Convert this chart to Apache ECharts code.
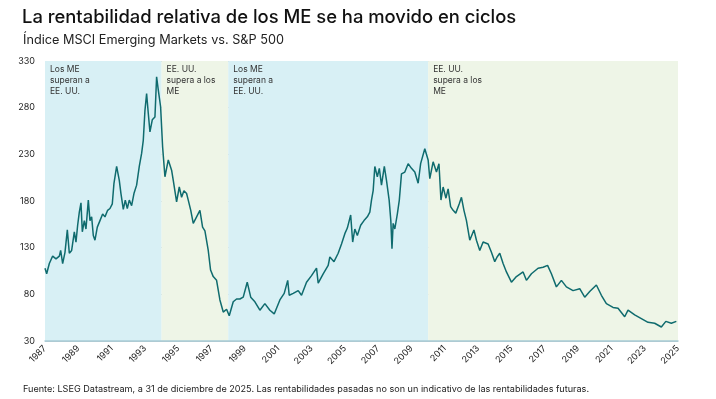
<!DOCTYPE html>
<html>
<head>
<meta charset="utf-8">
<script src="https://cdn.jsdelivr.net/npm/echarts@6/dist/echarts.min.js"></script>
<style>
  html, body { margin: 0; padding: 0; background: #fff; }
  #chart { width: 716px; height: 399px; }
</style>
</head>
<body>
<div id="chart"></div>
<script>
// MSCI EM vs S&P 500: [año, valor]
const years = [
  1987.0, 1987.1, 1987.26, 1987.46, 1987.66, 1987.86, 1987.94, 1988.06, 1988.2, 1988.34,
  1988.46, 1988.6, 1988.76, 1988.86, 1988.96, 1989.06, 1989.16, 1989.24, 1989.36, 1989.46,
  1989.6, 1989.7, 1989.8, 1989.9, 1990.0, 1990.14, 1990.3, 1990.46, 1990.6, 1990.76,
  1990.9, 1991.04, 1991.14, 1991.3, 1991.46, 1991.56, 1991.7, 1991.82, 1991.94, 1992.06,
  1992.2, 1992.34, 1992.5, 1992.66, 1992.8, 1992.9, 1993.0, 1993.1, 1993.2, 1993.3,
  1993.44, 1993.6, 1993.7, 1993.8, 1993.94, 1994.06, 1994.2, 1994.4, 1994.6, 1994.7,
  1994.9, 1995.06, 1995.2, 1995.34, 1995.5, 1995.6, 1995.75, 1995.9, 1996.1, 1996.3,
  1996.46, 1996.6, 1996.8, 1996.94, 1997.1, 1997.3, 1997.5, 1997.7, 1997.9, 1998.06,
  1998.3, 1998.5, 1998.7, 1998.9, 1999.14, 1999.35, 1999.6, 1999.9, 2000.2, 2000.5,
  2000.76, 2001.1, 2001.36, 2001.57, 2001.66, 2001.9, 2002.2, 2002.4, 2002.7, 2003.0,
  2003.3, 2003.4, 2003.7, 2004.0, 2004.1, 2004.35, 2004.6, 2004.8, 2005.0, 2005.15,
  2005.35, 2005.47, 2005.6, 2005.75, 2005.95, 2006.15, 2006.35, 2006.5, 2006.6, 2006.7,
  2006.8, 2006.95, 2007.07, 2007.2, 2007.37, 2007.5, 2007.66, 2007.76, 2007.83, 2007.9,
  2008.0, 2008.15, 2008.27, 2008.4, 2008.6, 2008.8, 2009.0, 2009.2, 2009.4, 2009.55,
  2009.8, 2010.0, 2010.1, 2010.3, 2010.5, 2010.65, 2010.77, 2010.9, 2011.07, 2011.2,
  2011.35, 2011.5, 2011.66, 2011.87, 2012.0, 2012.15, 2012.3, 2012.5, 2012.75, 2012.9,
  2013.1, 2013.3, 2013.6, 2013.8, 2014.0, 2014.14, 2014.3, 2014.5, 2014.7, 2015.0,
  2015.3, 2015.7, 2015.9, 2016.2, 2016.6, 2016.9, 2017.17, 2017.4, 2017.7, 2018.0,
  2018.3, 2018.7, 2019.1, 2019.4, 2019.7, 2020.1, 2020.4, 2020.7, 2021.1, 2021.4,
  2021.8, 2022.0, 2022.4, 2022.8, 2023.2, 2023.6, 2024.0, 2024.27, 2024.6, 2024.9
];
const values = [
  108, 102, 113, 121, 118, 121, 127, 113, 125, 149,
  124, 127, 147, 136, 154, 168, 178, 147, 159, 150,
  181, 159, 163, 143, 138, 152, 159, 166, 163, 170,
  172, 177, 199, 217, 202, 188, 171, 181, 172, 181,
  175, 188, 197, 217, 231, 245, 277, 295, 274, 254,
  267, 270, 313, 299, 281, 238, 206, 224, 213, 202,
  179, 195, 184, 191, 188, 181, 170, 156, 163, 170,
  152, 148, 127, 106, 99, 95, 74, 61, 64, 57,
  72, 75, 75, 77, 93, 77, 72, 63, 70, 63,
  59, 74, 81, 95, 79, 81, 84, 79, 93, 100,
  108, 92, 102, 111, 120, 115, 124, 134, 145, 151,
  165, 136, 150, 143, 154, 159, 163, 168, 181, 191,
  217, 206, 215, 197, 217, 202, 181, 159, 129, 156,
  150, 166, 181, 209, 211, 220, 215, 211, 199, 220,
  236, 224, 204, 222, 211, 220, 181, 195, 183, 193,
  174, 170, 167, 177, 184, 170, 159, 138, 149, 138,
  127, 136, 134, 125, 115, 120, 124, 113, 104, 93,
  99, 104, 95, 102, 108, 109, 111, 102, 88, 95,
  88, 84, 86, 77, 83, 90, 79, 70, 66, 65,
  56, 63, 58, 54, 50, 49, 45, 51, 49, 51
];

// periodos de liderazgo
const periodStart = [1987, 1994, 1998, 2010];
const periodEnd = [1994, 1998, 2010, 2025];
const periodText = [
  'Los ME\nsuperan a\nEE. UU.',
  'EE. UU.\nsupera a los\nME',
  'Los ME\nsuperan a\nEE. UU.',
  'EE. UU.\nsupera a los\nME'
];
const periodEM = [true, false, true, false];

const yTicks = [30, 80, 130, 180, 230, 280, 330];

const FONT = 'Inter, "Noto Sans", sans-serif';
const chart = echarts.init(document.getElementById('chart'));

const bands = periodStart.map((s, i) => [
  {
    xAxis: s,
    name: periodText[i],
    itemStyle: { color: periodEM[i] ? '#d8f0f5' : '#eef5e7', opacity: 1 }
  },
  { xAxis: periodEnd[i] }
]);

chart.setOption({
  animation: false,
  textStyle: { fontFamily: FONT },
  title: [
    {
      text: 'La rentabilidad relativa de los ME se ha movido en ciclos',
      left: 17, top: 3,
      textStyle: { fontSize: 18.4, fontWeight: 500, color: '#111', fontFamily: FONT }
    },
    {
      text: 'Índice MSCI Emerging Markets vs. S&P 500',
      left: 18, top: 29,
      textStyle: { fontSize: 12.7, fontWeight: 400, color: '#222', fontFamily: FONT }
    },
    {
      text: 'Fuente: LSEG Datastream, a 31 de diciembre de 2025. Las rentabilidades pasadas no son un indicativo de las rentabilidades futuras.',
      left: 18, top: 380,
      textStyle: { fontSize: 9.1, fontWeight: 400, color: '#222', fontFamily: FONT }
    }
  ],
  grid: { left: 45, right: 38, top: 61, bottom: 58 },
  xAxis: {
    type: 'value',
    min: 1987, max: 2025, interval: 2,
    z: 1,
    axisLine: { show: true, lineStyle: { color: '#a8cbd6', width: 1.5 } },
    axisTick: { show: false },
    splitLine: { show: false },
    axisLabel: {
      rotate: 45, fontSize: 9, color: '#222', margin: 6,
      formatter: v => String(v)
    }
  },
  yAxis: {
    type: 'value',
    min: yTicks[0], max: yTicks[yTicks.length - 1], interval: 50,
    z: 1,
    axisLine: { show: false },
    axisTick: { show: false },
    splitLine: { lineStyle: { color: '#bcc6c8', width: 1 } },
    axisLabel: { fontSize: 9, color: '#222', margin: 10 }
  },
  series: [
    {
      // fondos de los periodos
      type: 'line',
      data: [],
      z: 0,
      silent: true,
      markArea: {
        silent: true,
        label: {
          show: true, position: 'insideTopLeft', distance: 5, offset: [0, -2],
          fontSize: 8.5, lineHeight: 11, color: '#333', fontFamily: FONT
        },
        data: bands
      }
    },
    {
      type: 'line',
      data: years.map((y, i) => [y, values[i]]),
      showSymbol: false,
      lineStyle: { color: '#0f6b6e', width: 1.5 },
      z: 3
    }
  ]
});
</script>
</body>
</html>
